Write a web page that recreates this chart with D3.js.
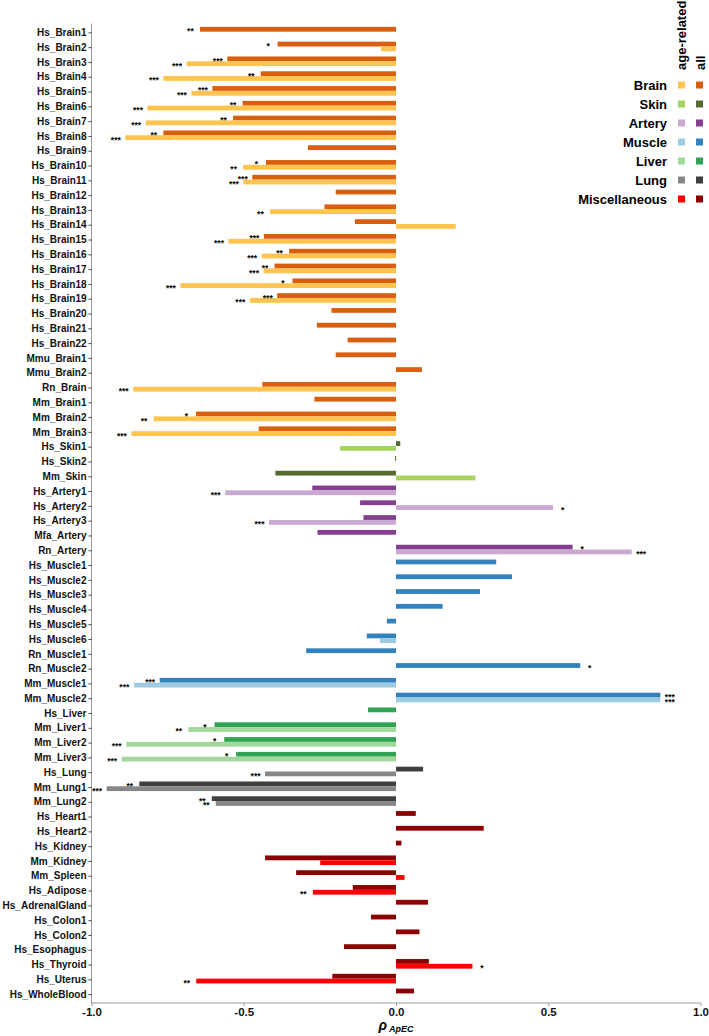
<!DOCTYPE html>
<html><head><meta charset="utf-8">
<script src="https://cdn.jsdelivr.net/npm/d3@7"></script>
<style>
html,body{margin:0;padding:0;background:#fff;}
svg text{font-family:"Liberation Sans",Arial,Helvetica,sans-serif;}
</style></head>
<body><svg id="chart" width="709" height="1036"></svg>
<script>
const categories = ["Hs_Brain1","Hs_Brain2","Hs_Brain3","Hs_Brain4","Hs_Brain5","Hs_Brain6","Hs_Brain7","Hs_Brain8","Hs_Brain9","Hs_Brain10","Hs_Brain11","Hs_Brain12","Hs_Brain13","Hs_Brain14","Hs_Brain15","Hs_Brain16","Hs_Brain17","Hs_Brain18","Hs_Brain19","Hs_Brain20","Hs_Brain21","Hs_Brain22","Mmu_Brain1","Mmu_Brain2","Rn_Brain","Mm_Brain1","Mm_Brain2","Mm_Brain3","Hs_Skin1","Hs_Skin2","Mm_Skin","Hs_Artery1","Hs_Artery2","Hs_Artery3","Mfa_Artery","Rn_Artery","Hs_Muscle1","Hs_Muscle2","Hs_Muscle3","Hs_Muscle4","Hs_Muscle5","Hs_Muscle6","Rn_Muscle1","Rn_Muscle2","Mm_Muscle1","Mm_Muscle2","Hs_Liver","Mm_Liver1","Mm_Liver2","Mm_Liver3","Hs_Lung","Mm_Lung1","Mm_Lung2","Hs_Heart1","Hs_Heart2","Hs_Kidney","Mm_Kidney","Mm_Spleen","Hs_Adipose","Hs_AdrenalGland","Hs_Colon1","Hs_Colon2","Hs_Esophagus","Hs_Thyroid","Hs_Uterus","Hs_WholeBlood"];

const groups = ["Brain","Brain","Brain","Brain","Brain","Brain","Brain","Brain","Brain","Brain","Brain","Brain","Brain","Brain","Brain","Brain","Brain","Brain","Brain","Brain","Brain","Brain","Brain","Brain","Brain","Brain","Brain","Brain","Skin","Skin","Skin","Artery","Artery","Artery","Artery","Artery","Muscle","Muscle","Muscle","Muscle","Muscle","Muscle","Muscle","Muscle","Muscle","Muscle","Liver","Liver","Liver","Liver","Lung","Lung","Lung","Miscellaneous","Miscellaneous","Miscellaneous","Miscellaneous","Miscellaneous","Miscellaneous","Miscellaneous","Miscellaneous","Miscellaneous","Miscellaneous","Miscellaneous","Miscellaneous","Miscellaneous"];

const allValues = [-0.644,-0.389,-0.554,-0.444,-0.603,-0.504,-0.535,-0.764,-0.289,-0.427,-0.472,-0.198,-0.235,-0.135,-0.434,-0.351,-0.399,-0.340,-0.390,-0.212,-0.260,-0.159,-0.198,0.085,-0.439,-0.268,-0.657,-0.451,0.014,-0.003,-0.396,-0.275,-0.118,-0.107,-0.258,0.580,0.329,0.381,0.276,0.153,-0.030,-0.096,-0.295,0.605,-0.776,0.868,-0.092,-0.596,-0.564,-0.525,0.089,-0.843,-0.605,0.065,0.288,0.018,-0.430,-0.328,-0.142,0.105,-0.082,0.077,-0.171,0.108,-0.209,0.059];

const allSig = ["**","*","***","**","***","**","**","**","","*","***","","","","***","**","**","*","***","","","","","","","","*","","","","","","","","","*","","","","","","","","*","***","***","","*","*","*","","**","**","","","","","","","","","","","","",""];

const ageValues = [null,-0.049,-0.688,-0.764,-0.672,-0.816,-0.822,-0.889,null,-0.502,-0.501,null,-0.414,0.196,-0.550,-0.441,-0.435,-0.708,-0.480,null,null,null,null,null,-0.863,null,-0.796,-0.869,-0.184,null,0.261,-0.561,0.516,-0.417,null,0.774,null,null,null,null,null,-0.053,null,null,-0.861,0.868,null,-0.682,-0.886,-0.901,-0.430,-0.950,-0.592,null,null,null,-0.249,0.028,-0.273,null,null,null,null,0.251,-0.656,null];

const ageSig = ["","","***","***","***","***","***","***","","**","***","","**","","***","***","***","***","***","","","","","","***","","**","***","","","","***","*","***","","***","","","","","","","","","***","***","","**","***","***","***","***","**","","","","","","**","","","","","*","**",""];

const groupNames = ["Brain","Skin","Artery","Muscle","Liver","Lung","Miscellaneous"];
const ageColors = ["#FEC44F","#A6D35E","#C9A9D0","#9ECAE1","#A1D99B","#878787","#FF0000"];
const allColors = ["#D95F0E","#556B2F","#84408F","#3182BD","#31A354","#3F3F3F","#8B0000"];
const tickValues = [-1.0,-0.5,0.0,0.5,1.0];
const tickLabels = ["-1.0","-0.5","0.0","0.5","1.0"];

const svg = d3.select("#chart");
const x = d3.scaleLinear().domain([-1,1]).range([91.5,700.5]);
const y = d3.scalePoint().domain(categories).range([23.5,1003]).padding(0.6);
const cAge = d3.scaleOrdinal().domain(groupNames).range(ageColors);
const cAll = d3.scaleOrdinal().domain(groupNames).range(allColors);
const barH = 4.8, shift = -0.7;

const rows = categories.map((c,i)=>({cat:c,g:groups[i],all:allValues[i],age:ageValues[i],allS:allSig[i],ageS:ageSig[i]}));

// bars: all (top half)
svg.append("g").selectAll("rect").data(rows.filter(d=>d.all!==null)).join("rect")
  .attr("x",d=>x(Math.min(0,d.all))).attr("width",d=>Math.max(1,Math.abs(x(d.all)-x(0))))
  .attr("y",d=>y(d.cat)+shift-barH).attr("height",barH).attr("fill",d=>cAll(d.g));
// bars: age-related (bottom half)
svg.append("g").selectAll("rect").data(rows.filter(d=>d.age!==null)).join("rect")
  .attr("x",d=>x(Math.min(0,d.age))).attr("width",d=>Math.abs(x(d.age)-x(0)))
  .attr("y",d=>y(d.cat)+shift).attr("height",barH).attr("fill",d=>cAge(d.g));

// significance stars
const starG = svg.append("g").attr("font-size","8.5px").attr("font-weight","bold").attr("text-anchor","middle").attr("fill","#000");
starG.selectAll("text.sa").data(rows.filter(d=>d.allS)).join("text")
  .attr("x",d=>x(d.all)+(d.all<0?-9.5:9.5)).attr("y",d=>y(d.cat)+shift-barH/2+5).text(d=>d.allS);
starG.selectAll("text.sb").data(rows.filter(d=>d.ageS)).join("text")
  .attr("x",d=>x(d.age)+(d.age<0?-9.5:9.5)).attr("y",d=>y(d.cat)+shift+barH/2+5).text(d=>d.ageS);

// y axis
const yAx = svg.append("g").attr("transform","translate(91.5,0)")
  .call(d3.axisLeft(y).tickSize(3).tickPadding(2));
yAx.select(".domain").attr("stroke","#9a9a9a").attr("d","M0,23.5V1003");
yAx.selectAll(".tick line").attr("stroke","#444");
yAx.selectAll(".tick text").attr("font-size","10px").attr("font-weight","bold").attr("fill","#111")
  .attr("font-family","'Liberation Sans',Arial,sans-serif");

// x axis
const xAx = svg.append("g").attr("transform","translate(0,1003)")
  .call(d3.axisBottom(x).tickValues(tickValues).tickFormat((d,i)=>tickLabels[i]).tickSize(3).tickPadding(2));
xAx.select(".domain").attr("stroke","#9a9a9a").attr("d","M91.5,0H700.5");
xAx.selectAll(".tick line").attr("stroke","#9a9a9a");
xAx.selectAll(".tick text").attr("font-size","11.5px").attr("font-weight","bold").attr("fill","#111")
  .attr("font-family","'Liberation Sans',Arial,sans-serif");

// x title
const xt = svg.append("text").attr("x",396).attr("y",1030).attr("text-anchor","middle")
  .attr("font-weight","bold").attr("font-style","italic");
xt.append("tspan").attr("font-size","14px").text("ρ");
xt.append("tspan").attr("font-size","9px").attr("dx","2").attr("dy","2").text("ApEC");

// legend
const lg = svg.append("g");
lg.append("text").attr("transform","translate(686,70) rotate(-90)").attr("font-size","13px").attr("font-weight","bold").text("age-related");
lg.append("text").attr("transform","translate(705,70) rotate(-90)").attr("font-size","13px").attr("font-weight","bold").text("all");
const lr = lg.selectAll("g.row").data(groupNames).join("g").attr("transform",(d,i)=>`translate(0,${85+i*19})`);
lr.append("text").attr("x",667).attr("y",0).attr("dy","0.35em").attr("text-anchor","end")
  .attr("font-size","13px").attr("font-weight","bold").text(d=>d);
lr.append("rect").attr("x",678).attr("y",-3.5).attr("width",7).attr("height",7).attr("fill",d=>cAge(d));
lr.append("rect").attr("x",696).attr("y",-3.5).attr("width",7).attr("height",7).attr("fill",d=>cAll(d));
</script></body></html>
